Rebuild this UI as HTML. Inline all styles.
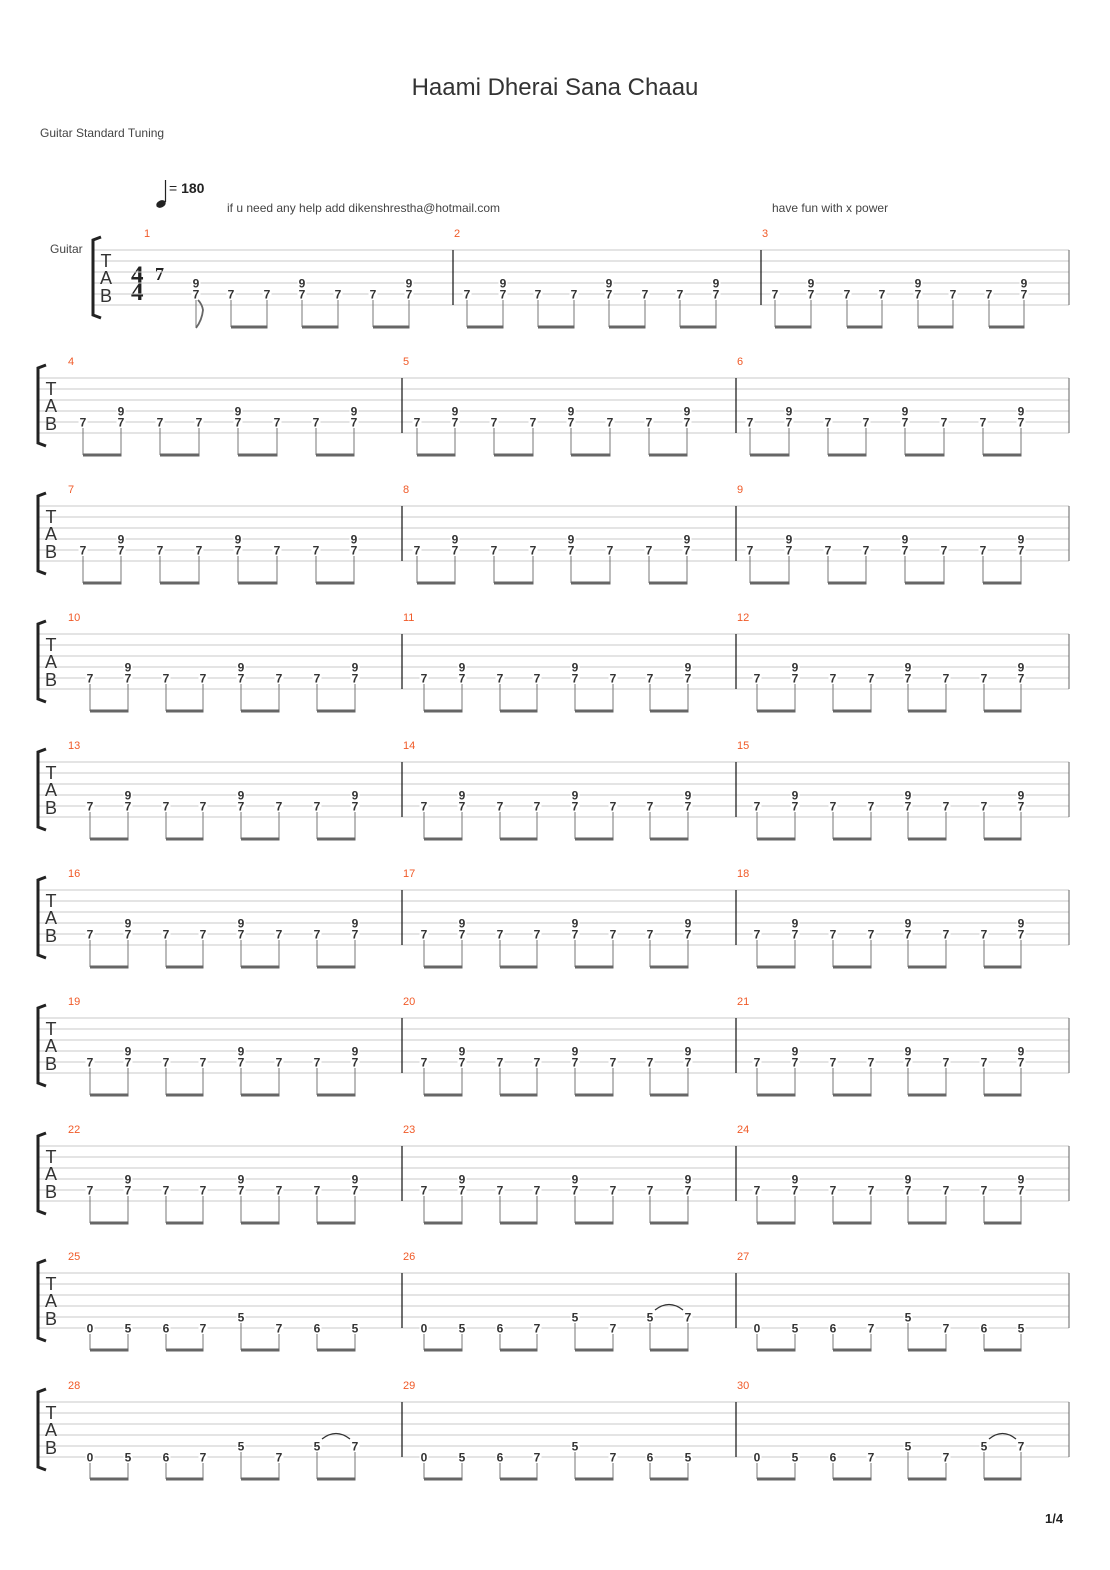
<!DOCTYPE html>
<html><head><meta charset="utf-8">
<style>
html,body{margin:0;padding:0;background:#fff;}
svg{display:block;font-family:"Liberation Sans","DejaVu Sans",sans-serif;}
</style></head>
<body>
<svg id="s" width="1110" height="1570" viewBox="0 0 1110 1570" xmlns="http://www.w3.org/2000/svg">
<text x="555" y="95" font-size="24" fill="#333" text-anchor="middle">Haami Dherai Sana Chaau</text>
<text x="40" y="137" font-size="12" fill="#444">Guitar Standard Tuning</text>
<ellipse cx="161" cy="204" rx="5" ry="3.5" fill="#222" transform="rotate(-25 161 204)"/>
<line x1="165.5" y1="202" x2="165.5" y2="180" stroke="#222" stroke-width="1.2"/>
<text x="169" y="193" font-size="14" fill="#222"><tspan>= </tspan><tspan font-weight="bold">180</tspan></text>
<text x="227" y="212" font-size="12" fill="#444">if u need any help add  dikenshrestha@hotmail.com</text>
<text x="772" y="212" font-size="12" fill="#444">have fun with x power</text>
<text x="50" y="253" font-size="12" fill="#444">Guitar</text>
<text x="131" y="283" font-size="25" font-weight="bold" fill="#222" font-family="Liberation Serif,serif">4</text>
<text x="131" y="300" font-size="25" font-weight="bold" fill="#222" font-family="Liberation Serif,serif">4</text>
<text x="155" y="280" font-size="18" font-weight="bold" fill="#222" font-family="Liberation Serif,serif">7</text>
<text x="1045" y="1523" font-size="13" fill="#222" font-weight="bold">1/4</text>
<g id="g"></g>
</svg>
<script>
(function(){
var g=document.getElementById('g'),h='';
function L(x1,y1,x2,y2,c,w){h+='<line x1="'+x1+'" y1="'+y1+'" x2="'+x2+'" y2="'+y2+'" stroke="'+c+'" stroke-width="'+w+'"/>';}
function T(x,y,t,s,c,extra){h+='<text x="'+x+'" y="'+y+'" font-size="'+s+'" fill="'+c+'" '+(extra||'')+'>'+t+'</text>';}
function num(x,y,t){h+='<rect x="'+(x-4.5)+'" y="'+(y-6)+'" width="9" height="11" fill="#fff"/>';T(x,y+4.5,t,12,'#333','font-weight="bold" text-anchor="middle"');}
var A=[['7'],['9','7'],['7'],['7'],['9','7'],['7'],['7'],['9','7']];
var B1=[0,5,6,7,'u5',7,6,5],B2=[0,5,6,7,'u5',7,'u5','u7'];
for(var s=0;s<10;s++){
 var ty=250+128*s+(s>=8?-1:0)+(s==9?1:0);
 var x0=s==0?92:37;
 for(var i=0;i<6;i++)L(x0,ty+11*i,1069,ty+11*i,'#c8c8c8',1);
 L(x0,ty,x0,ty+55,'#666',1);L(1069,ty,1069,ty+55,'#666',1);
 var bx=s==0?91:36;
 h+='<path d="M'+(bx+10)+' '+(ty-13)+' L'+(bx+2)+' '+(ty-10)+' L'+(bx+2)+' '+(ty+65)+' L'+(bx+10)+' '+(ty+68)+'" fill="none" stroke="#222" stroke-width="3"/>';
 var tx=s==0?106:51;
 T(tx,ty+17,'T',18,'#333','text-anchor="middle"');T(tx,ty+34,'A',18,'#333','text-anchor="middle"');T(tx,ty+52,'B',18,'#333','text-anchor="middle"');
 var bars,xs;
 if(s==0){bars=[[92,453],[453,761],[761,1069]];
  xs=[[null,196,231,267,302,338,373,409],[467,503,538,574,609,645,680,716],[775,811,847,882,918,953,989,1024]];}
 else if(s<3){bars=[[37,402],[402,736],[736,1069]];
  xs=[[83,121,160,199,238,277,316,354],[417,455,494,533,571,610,649,687],[750,789,828,866,905,944,983,1021]];}
 else {bars=[[37,402],[402,736],[736,1069]];
  xs=[[90,128,166,203,241,279,317,355],[424,462,500,537,575,613,650,688],[757,795,833,871,908,946,984,1021]];}
 for(var b=0;b<3;b++){
  var m=s*3+b+1;
  if(b>0)L(bars[b][0],ty,bars[b][0],ty+55,'#222',1.3);
  var nx=s==0?(b==0?144:bars[b][0]+1):(b==0?68:bars[b][0]+1);
  T(nx,ty-13,m,11,'#f05a28');
  for(var k=0;k<8;k++){
   var x=xs[b][k];if(x==null)continue;
   var sy;
   if(m<=24){var n=A[k];if(n.length==2){num(x,ty+33,'9');num(x,ty+44,'7');}else num(x,ty+44,'7');sy=ty+50;}
   else{var p=(m==26||m==28||m==30)?B2:B1;var v=''+p[k];
    if(v[0]=='u'){num(x,ty+44,v.slice(1));sy=ty+50;}else{num(x,ty+55,v);sy=ty+61;}}
   L(x,sy,x,ty+77,'#777',1);
  }
  for(var k=0;k<8;k+=2){var a=xs[b][k],c=xs[b][k+1];
   if(a==null){h+='<path d="M'+c+' '+(ty+78)+' Q'+(c+6)+' '+(ty+70)+' '+(c+7)+' '+(ty+60)+' Q'+(c+6)+' '+(ty+54)+' '+(c+2)+' '+(ty+50)+'" fill="none" stroke="#666" stroke-width="1.8"/>';continue;}
   h+='<rect x="'+a+'" y="'+(ty+75.5)+'" width="'+(c-a+0.5)+'" height="3" fill="#666"/>';}
  if(m==26||m==28||m==30){var a=xs[b][6],c=xs[b][7];h+='<path d="M'+(a+5)+' '+(ty+37)+' Q'+((a+c)/2)+' '+(ty+26)+' '+(c-5)+' '+(ty+37)+'" fill="none" stroke="#333" stroke-width="1.3"/>';}
 }
}
g.innerHTML=h;
})();
</script>
</body></html>
